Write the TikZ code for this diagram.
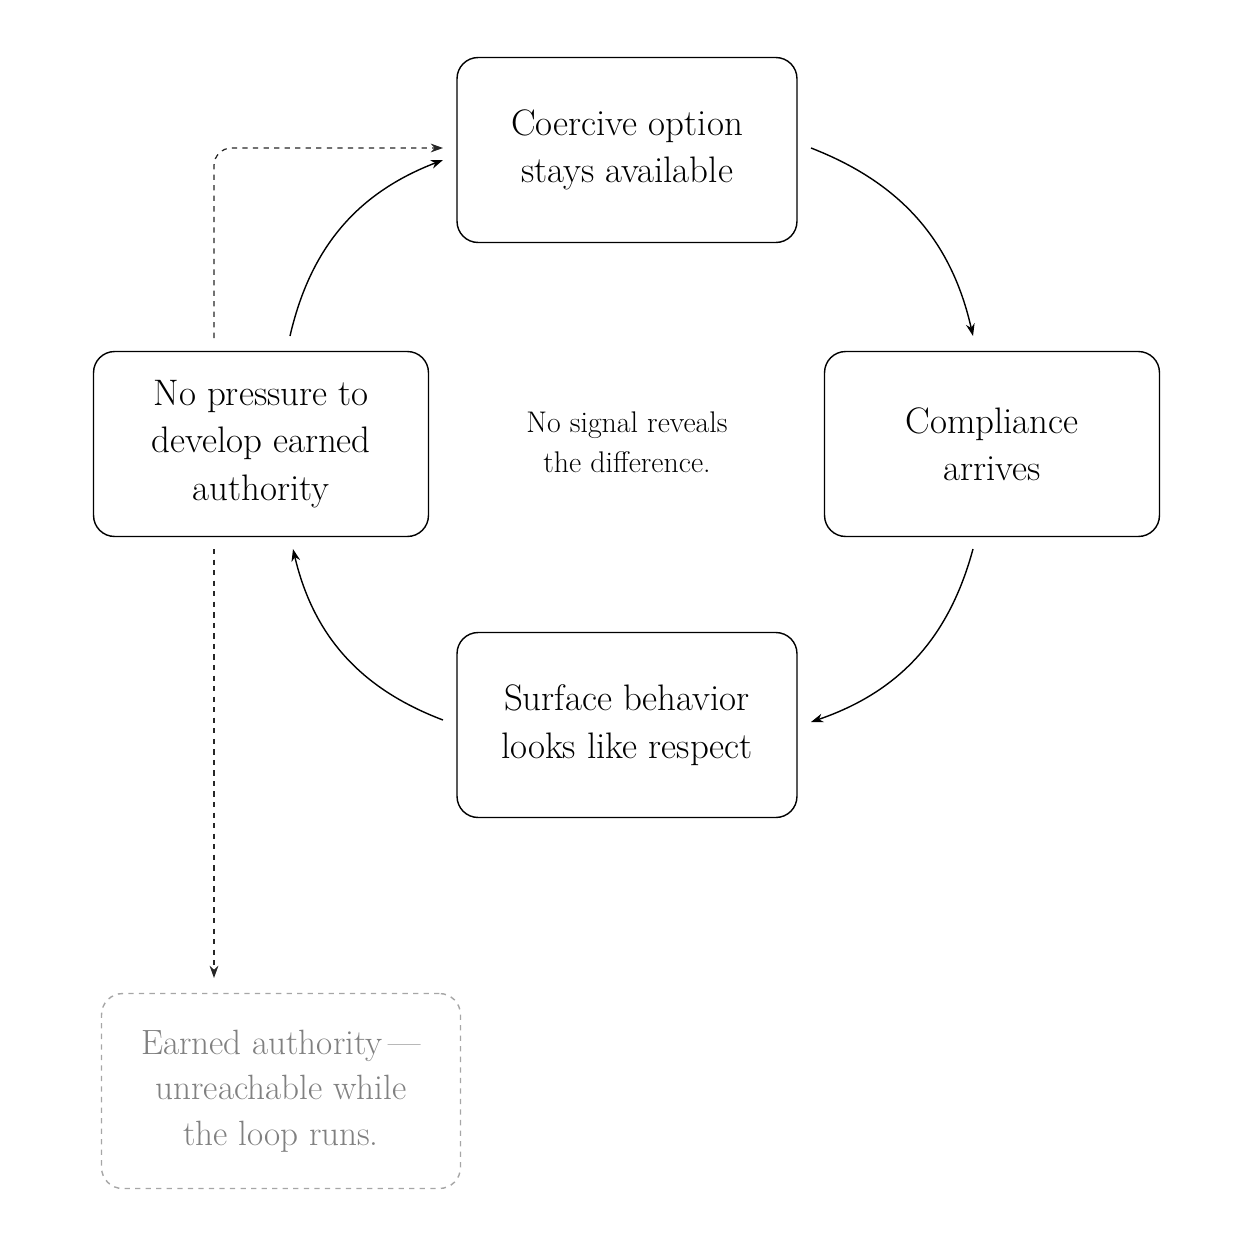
\documentclass[tikz,border=0pt]{standalone}
\usepackage{tikz}
\usetikzlibrary{arrows.meta}

\begin{document}
\begin{tikzpicture}[x=0.02cm,y=-0.02cm,
    stage/.style={draw,rounded corners=12pt,line width=0.8pt,minimum width=6.7cm,minimum height=3.7cm,align=center,font=\fontsize{21}{27}\selectfont},
    ghost/.style={draw=gray!70,dashed,rounded corners=12pt,line width=0.8pt,minimum width=7.18cm,minimum height=3.9cm,align=center,text=gray,font=\fontsize{20}{26}\selectfont},
    flow/.style={-{Stealth[length=7pt,width=5pt]},line width=0.8pt},
    hint/.style={-{Stealth[length=7pt,width=5pt]},dashed,line width=0.7pt,gray!30!black}]
        \useasboundingbox (0,0) rectangle (1254,1254);
        % The four boxes of the loop
        \node[stage,minimum width=6.8cm] (coerce) at (627,150) {Coercive option\\stays available};
        \node[stage] (comply) at (992,444) {Compliance\\arrives};
        \node[stage,minimum width=6.8cm] (surface) at (627,725) {Surface behavior\\looks like respect};
        \node[stage] (nopress) at (261,444) {No pressure to\\develop earned\\authority};
        \node[align=center,font=\fontsize{17}{23}\selectfont] (nosignal) at (627,442) {No signal reveals\\the difference.};
        \node[ghost] (earned) at (281,1091) {Earned authority\,---\\unreachable while\\the loop runs.};

        % Loop arrows
        \coordinate (a1) at (811,148); \coordinate (a2) at (973,336);
        \coordinate (b1) at (973,549); \coordinate (b2) at (811,722);
        \coordinate (c1) at (443,720); \coordinate (c2) at (293,549);
        \coordinate (d1) at (290,336); \coordinate (d2) at (443,160);
        \draw[flow] (a1) to[bend left=28] (a2);
        \draw[flow] (b1) to[bend left=28] (b2);
        \draw[flow] (c1) to[bend left=28] (c2);
        \draw[flow] (d1) to[bend left=28] (d2);

        % Dashed side paths
        \coordinate (e1) at (214,338); \coordinate (e2) at (443,148);
        \coordinate (f1) at (214,549); \coordinate (f2) at (214,978);
        \draw[hint,rounded corners=10pt] (e1) |- (e2);
        \draw[hint] (f1) -- (f2);
    \end{tikzpicture}
\end{document}
